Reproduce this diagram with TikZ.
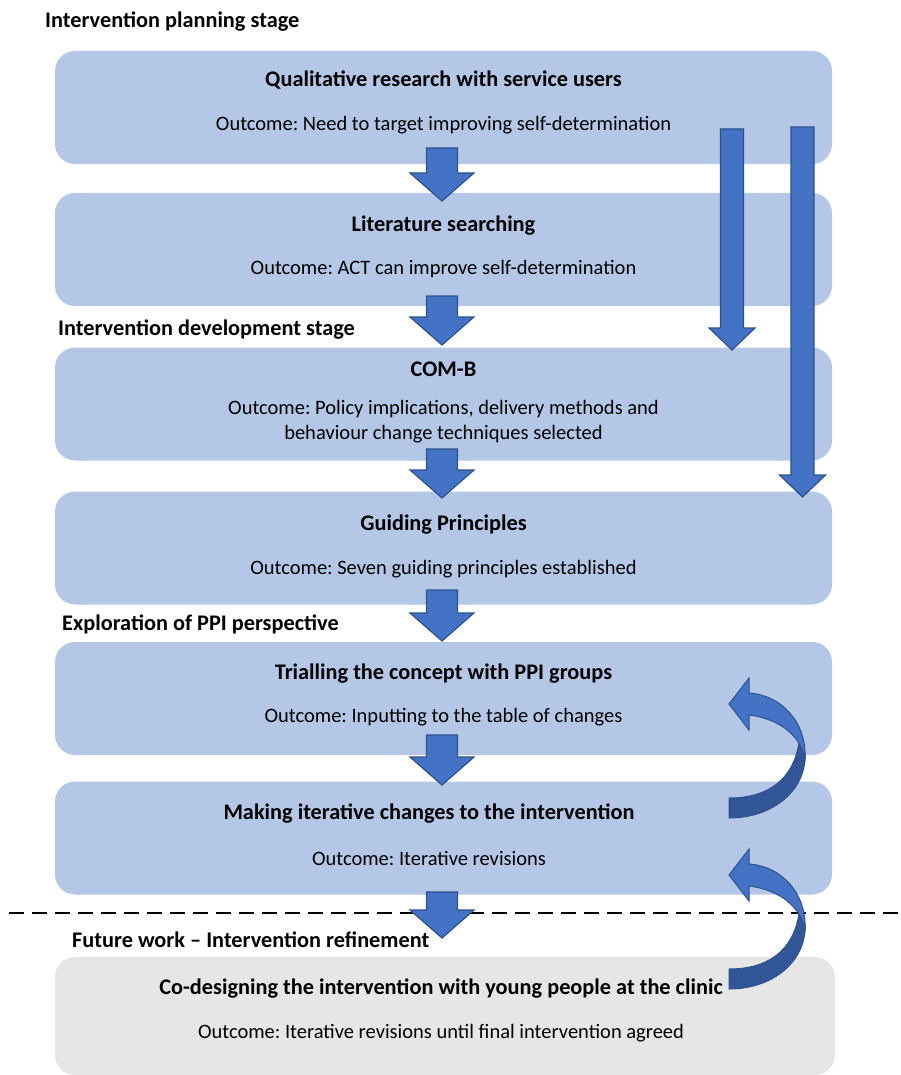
\documentclass[tikz,border=0pt]{standalone}
\usepackage{fontspec}
\setmainfont{Carlito}
\usetikzlibrary{calc}
\frenchspacing

\newlength{\du}
\setlength{\du}{1pt}

\definecolor{stagefill}{RGB}{180,199,231}
\definecolor{futurefill}{RGB}{230,230,230}
\definecolor{arrowfill}{RGB}{68,114,196}
\definecolor{arrowline}{RGB}{47,82,143}
\definecolor{arrowback}{RGB}{50,86,152}

\tikzset{
  stagebox/.style={rounded corners=20\du, fill=stagefill, draw=none, minimum width=777\du, minimum height=113\du, inner sep=0pt},
  futurebox/.style={stagebox, fill=futurefill, minimum width=780\du, minimum height=118\du},
  heading/.style={anchor=west, inner sep=0pt, font=\fontsize{22.3}{26}\selectfont\bfseries},
  boxtitle/.style={inner sep=0pt, font=\fontsize{22.3}{26}\selectfont\bfseries},
  outcome/.style={inner sep=0pt, align=center, font=\fontsize{20.5}{25}\selectfont},
  blockarrow/.style={fill=arrowfill, draw=arrowline, line width=1.2\du, line join=miter},
  downarrow/.style n args={3}{blockarrow, to path={let \p1=(\tikztostart), \p2=(\tikztotarget) in
    (\x1-#1,\y1) -- (\x1-#1,\y2+#3) -- (\x1-#2,\y2+#3) -- (\x2,\y2) -- (\x1+#2,\y2+#3) -- (\x1+#1,\y2+#3) -- (\x1+#1,\y1) -- cycle}},
  shortarrow/.style={downarrow={15.5\du}{32\du}{28\du}},
  longarrow/.style={downarrow={11.5\du}{23\du}{22\du}},
  cutline/.style={line width=2.6\du, dash pattern=on 15\du off 8\du},
  loopback/.pic={
    % back face of the ribbon
    \draw[fill=arrowback, draw=arrowline, line width=1\du] (0,41) .. controls (40,41) and (64,22) .. (70,-14) -- (76,-4) .. controls (78,32) and (45,61) .. (0,61) -- cycle;
    % front face with the head
    \draw[fill=arrowfill, draw=arrowline, line width=1\du] (20,-64) -- (20,-79) -- (0,-53) -- (20,-27) -- (20,-42) .. controls (52,-38) and (72,-20) .. (76,2) .. controls (78,-35) and (52,-62) .. (20,-64) -- cycle;
  },
}

\begin{document}
\begin{tikzpicture}[x=\du, y=-\du]
\useasboundingbox (0,0) rectangle (901,1075);

% stage boxes
\node[stagebox] (qual) at (443.5,107.5) {};
\node[stagebox] (lit) at (443.5,249.5) {};
\node[stagebox] (comb) at (443.5,404) {};
\node[stagebox] (guide) at (443.5,548) {};
\node[stagebox] (trial) at (443.5,698.5) {};
\node[stagebox] (iter) at (443.5,838) {};
\node[futurebox] (codes) at (445,1016) {};

% stage headings
\node[heading] (plan) at (45,22) {Intervention planning stage};
\node[heading] (devel) at (58,330) {Intervention development stage};
\node[heading] (ppi) at (62,624) {Exploration of PPI perspective};
\node[heading] (future) at (72,940) {Future work -- Intervention refinement};

% box texts
\node[boxtitle] (qualt) at (443.5,80) {Qualitative research with service users};
\node[outcome] (qualo) at (443.5,125) {Outcome: Need to target improving self-determination};
\node[boxtitle] (litt) at (443.5,226) {Literature searching};
\node[outcome] (lito) at (443.5,269) {Outcome: ACT can improve self-determination};
\node[boxtitle] (combt) at (443.5,369) {COM-B};
\node[outcome] (combo) at (443.5,421.5) {Outcome: Policy implications, delivery methods and\\behaviour change techniques selected};
\node[boxtitle] (guidet) at (443.5,525) {Guiding Principles};
\node[outcome] (guideo) at (443.5,569) {Outcome: Seven guiding principles established};
\node[boxtitle] (trialt) at (443.5,674) {Trialling the concept with PPI groups};
\node[outcome] (trialo) at (443.5,717) {Outcome: Inputting to the table of changes};
\node[boxtitle] (itert) at (429,814) {Making iterative changes to the intervention};
\node[outcome] (itero) at (429,858) {Outcome: Iterative revisions};
\node[boxtitle] (codest) at (441,989) {Co-designing the intervention with young people at the clinic};
\node[outcome] (codeso) at (441,1033) {Outcome: Iterative revisions until final intervention agreed};

% arrow ends
\coordinate (a1s) at (442,148);  \coordinate (a1e) at (442,201);
\coordinate (a2s) at (442,296);  \coordinate (a2e) at (442,345);
\coordinate (a3s) at (442,449);  \coordinate (a3e) at (442,498);
\coordinate (a4s) at (442,590);  \coordinate (a4e) at (442,641);
\coordinate (a5s) at (442,735);  \coordinate (a5e) at (442,785);
\coordinate (a6s) at (442,892);  \coordinate (a6e) at (442,938);
\coordinate (b1s) at (732,129);  \coordinate (b1e) at (732,350);
\coordinate (b2s) at (802.5,127);  \coordinate (b2e) at (802.5,497);

% future work divider
\draw[cutline] (9,913) -- (901,913);

\draw[shortarrow] (a1s) to (a1e);
\draw[shortarrow] (a2s) to (a2e);
\draw[shortarrow] (a3s) to (a3e);
\draw[shortarrow] (a4s) to (a4e);
\draw[shortarrow] (a5s) to (a5e);
\draw[shortarrow] (a6s) to (a6e);
\draw[longarrow] (b1s) to (b1e);
\draw[longarrow] (b2s) to (b2e);

\pic at (729,757) {loopback};
\pic at (729,928) {loopback};
\end{tikzpicture}
\end{document}
